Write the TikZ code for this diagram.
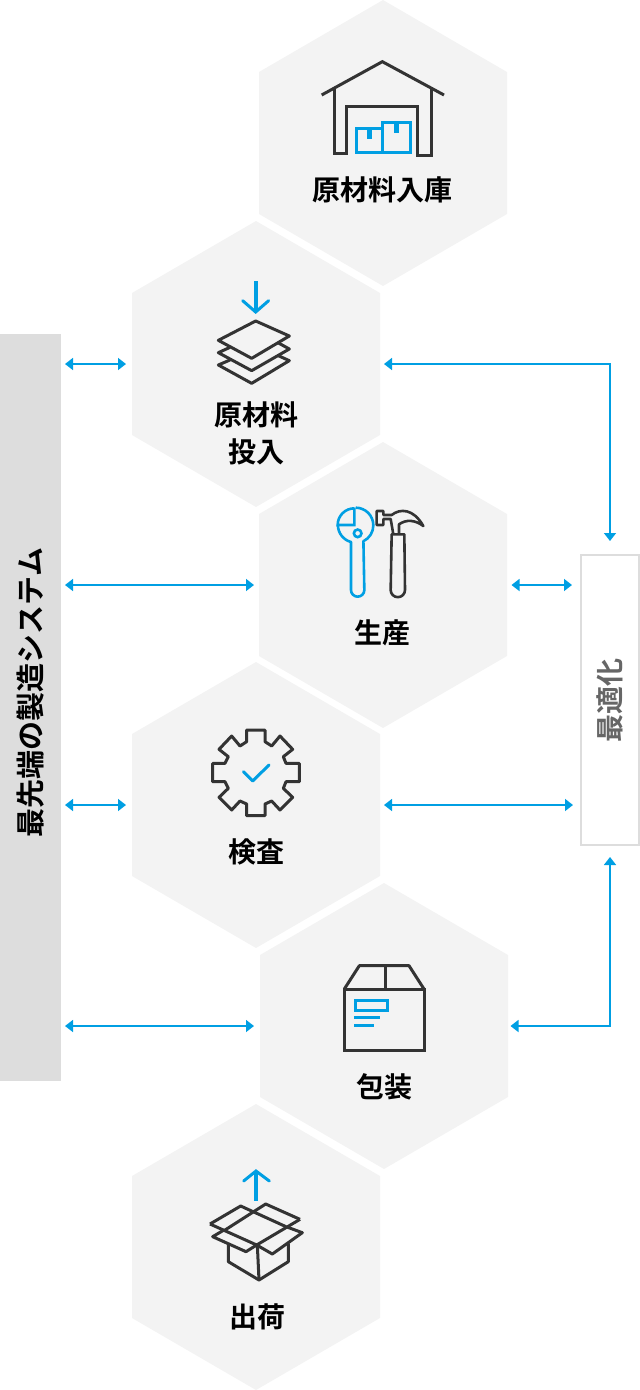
\documentclass[tikz,border=0pt]{standalone}
\usepackage{fontspec}
\setmainfont{Noto Sans CJK JP}[BoldFont={Noto Sans CJK JP Bold}]
\usetikzlibrary{arrows.meta}
\definecolor{hexfill}{HTML}{F3F3F3}
\definecolor{barfill}{HTML}{DDDDDD}
\definecolor{lineblue}{HTML}{009FE3}
\definecolor{icondark}{HTML}{333333}
\definecolor{grytext}{HTML}{666666}
\tikzset{
  hexlabel/.style={font=\bfseries\fontsize{28}{37}\selectfont,text=black,align=center,inner sep=0pt},
  link/.style={draw=lineblue,line width=1.6pt,{Triangle[length=8pt,width=12pt]}-{Triangle[length=8pt,width=12pt]}},
  dk/.style={draw=icondark,line width=3pt,line join=miter},
  bl/.style={draw=lineblue,line width=3pt,line join=miter},
  icon/.style={x=0.33333pt,y=-0.33333pt}
}
\newcommand{\hexa}[2]{\fill[hexfill] (#1,#2) -- (#1+124,#2+72) -- (#1+124,#2+214) -- (#1,#2+286) -- (#1-124,#2+214) -- (#1-124,#2+72) -- cycle;}
\begin{document}
\begin{tikzpicture}[x=1pt,y=-1pt]
\useasboundingbox (0,0) rectangle (640,1390);
\hexa{383}{0}
\hexa{256}{221}
\hexa{383}{442}
\hexa{256}{662}
\hexa{384}{883}
\hexa{256}{1104}
% side panels
\node[fill=barfill,minimum width=61pt,minimum height=747pt,inner sep=0pt,anchor=north west] (bar) at (0,334) {};
\node[font=\bfseries\fontsize{29}{30}\selectfont,text=black,rotate=90,inner sep=0pt] (barlabel) at (31,692.5) {最先端の製造システム};
\node[draw=barfill,line width=2pt,fill=white,minimum width=58.5pt,minimum height=290.5pt,inner sep=0pt,anchor=north west] (opt) at (579.5,553.5) {};
\node[font=\bfseries\fontsize{28}{30}\selectfont,text=grytext,rotate=90,inner sep=0pt] (optlabel) at (610,700) {最適化};
% labels
\node[hexlabel] (l1) at (382,190) {原材料入庫};
\node[hexlabel] (l2) at (256,433.5) {原材料\\投入};
\node[hexlabel] (l3) at (382,633) {生産};
\node[hexlabel] (l4) at (256,852) {検査};
\node[hexlabel] (l5) at (384,1087) {包装};
\node[hexlabel] (l6) at (257,1317) {出荷};
% connector ends
\coordinate (a1l) at (65,364); \coordinate (a1r) at (126,364);
\coordinate (a2l) at (65,585); \coordinate (a2r) at (254,585);
\coordinate (a3l) at (65,805); \coordinate (a3r) at (126,805);
\coordinate (a4l) at (65,1026); \coordinate (a4r) at (254,1026);
\coordinate (b1l) at (384,364); \coordinate (b1c) at (610,364); \coordinate (b1r) at (610,541);
\coordinate (b2l) at (511.5,585); \coordinate (b2r) at (572,585);
\coordinate (b3l) at (384,805); \coordinate (b3r) at (573,805);
\coordinate (b4l) at (510.5,1026); \coordinate (b4c) at (610,1026); \coordinate (b4r) at (610,857);
\draw[link] (a1l) -- (a1r);
\draw[link] (a2l) -- (a2r);
\draw[link] (a3l) -- (a3r);
\draw[link] (a4l) -- (a4r);
\draw[link] (b1l) -- (b1c) -- (b1r);
\draw[link] (b2l) -- (b2r);
\draw[link] (b3l) -- (b3r);
\draw[link] (b4l) -- (b4c) -- (b4r);
% warehouse
\begin{scope}[xshift=300pt,yshift=-40pt,icon]
\draw[dk] (65,165) -- (247,65) -- (432,165);
\draw[dk] (103,145) -- (103,340) -- (140,340) -- (140,200) -- (353,200) -- (353,345) -- (395,345) -- (395,145);
\draw[bl] (170,265) rectangle (247,338);
\draw[bl] (247,247) rectangle (332,338);
\fill[lineblue] (201,265) rectangle (216,297);
\fill[lineblue] (282,247) rectangle (297,278);
\end{scope}
% layers
\begin{scope}[xshift=200pt,yshift=-270pt,icon]
\draw[bl,line width=3.6pt] (168,33) -- (168,125);
\draw[bl,line cap=round] (128,92) -- (167,126) -- (206,92);
\draw[dk,line join=round] (167,153) -- (268,198) -- (155,265) -- (55,211) -- cycle;
\draw[dk,line join=round] (90,232) -- (55,248) -- (155,302) -- (268,237) -- (232,217);
\draw[dk,line join=round] (90,270) -- (55,285) -- (155,340) -- (268,272) -- (235,257);
\end{scope}
% tools
\begin{scope}[xshift=325pt,yshift=-495pt,icon]
\draw[bl,line width=2.6pt,line join=round] (92,38) arc[start angle=90,end angle=-64,radius=17.67pt] -- (118,285) arc[start angle=0,end angle=-180,radius=6.67pt] -- (78,141) arc[start angle=-105,end angle=-180,radius=17.67pt];
\draw[bl,line width=2.6pt] (88,38) -- (88,90) -- (38,90) arc[start angle=180,end angle=90,radius=16.67pt];
\draw[bl,line width=2.6pt] (98,115) circle[radius=3.8pt];
\draw[dk,line width=2.6pt,line join=round] (200,118) -- (197,285) arc[start angle=180,end angle=360,radius=7.17pt] -- (238,118) -- cycle;
\draw[dk,line width=2.6pt,line join=round] (205,118) -- (197,72) -- (175,72) -- (175,90) -- (155,90) -- (155,48) -- (175,48) -- (175,60) -- (200,60) .. controls (225,40) and (265,40) .. (295,93) .. controls (270,75) and (245,72) .. (222,88) -- (222,118);
\end{scope}
% gear
\begin{scope}[xshift=200pt,yshift=-720pt,icon]
\draw[dk,line join=round] (140,65) -- (140,30) -- (195,30) -- (195,65) -- (215,78) -- (240,48) -- (278,88) -- (250,110) -- (258,130) -- (298,130) -- (298,185) -- (258,185) -- (250,205) -- (278,232) -- (240,270) -- (215,243) -- (195,252) -- (195,287) -- (140,287) -- (140,252) -- (120,243) -- (95,270) -- (57,232) -- (85,205) -- (75,185) -- (38,185) -- (38,130) -- (75,130) -- (85,110) -- (57,88) -- (95,48) -- (120,78) -- cycle;
\draw[bl,line cap=round,line join=round] (130,155) -- (158,183) -- (207,135);
\end{scope}
% box
\begin{scope}[xshift=330pt,yshift=-955pt,icon]
\draw[dk] (43,102) rectangle (282,285);
\draw[dk,line join=round] (43,102) -- (88,32) -- (237,32) -- (282,102);
\draw[dk] (166,32) -- (166,102);
\draw[bl] (76,136) rectangle (173,167);
\draw[bl] (72,187) -- (150,187);
\draw[bl] (72,211) -- (132,211);
\end{scope}
% open box
\begin{scope}[xshift=200pt,yshift=-1160pt,icon]
\draw[bl,line width=3.6pt] (168,122) -- (168,38);
\draw[bl,line cap=round] (131,63) -- (168,33) -- (208,63);
\draw[dk,line join=round] (30,192) -- (122,138) -- (258,200);
\draw[dk,line join=round] (300,178) -- (197,132) -- (72,212);
\draw[dk,line join=round] (30,192) -- (170,255) -- (300,178);
\draw[dk,line join=round] (72,210) -- (38,230) -- (138,275) -- (170,255);
\draw[dk,line join=round] (258,200) -- (307,218) -- (217,282) -- (170,255);
\draw[dk,line join=round] (85,250) -- (85,305) -- (177,360) -- (265,305) -- (265,250);
\draw[dk] (172,255) -- (177,360);
\end{scope}
\end{tikzpicture}
\end{document}
